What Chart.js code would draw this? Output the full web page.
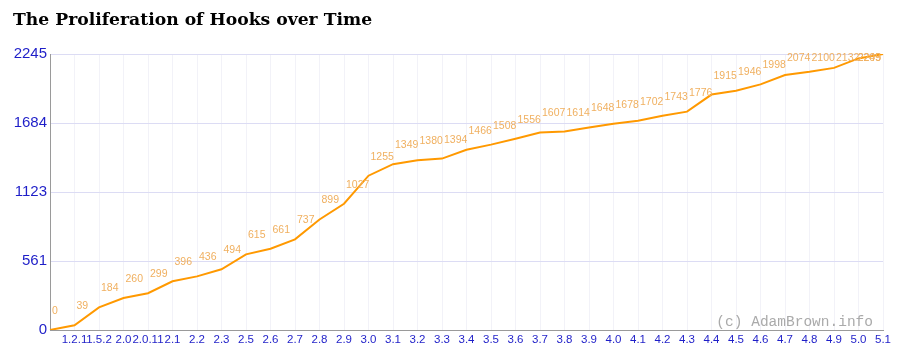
<!DOCTYPE html>
<html>
<head>
<meta charset="utf-8">
<script src="https://cdn.jsdelivr.net/npm/chart.js@4/dist/chart.umd.min.js"></script>
<style>
html,body{margin:0;padding:0;background:#fff;}
#wrap{width:900px;height:357px;position:relative;}
</style>
</head>
<body>
<div id="wrap"><canvas id="c" width="900" height="357"></canvas></div>
<script>
const versions = ["", "1.2.1", "1.5.2", "2.0", "2.0.11", "2.1", "2.2", "2.3", "2.5", "2.6", "2.7", "2.8", "2.9",
  "3.0", "3.1", "3.2", "3.3", "3.4", "3.5", "3.6", "3.7", "3.8", "3.9",
  "4.0", "4.1", "4.2", "4.3", "4.4", "4.5", "4.6", "4.7", "4.8", "4.9", "5.0", "5.1"];
const hookCounts = [0, 39, 184, 260, 299, 396, 436, 494, 615, 661, 737, 899, 1027,
  1255, 1349, 1380, 1394, 1466, 1508, 1556, 1607, 1614, 1648,
  1678, 1702, 1743, 1776, 1915, 1946, 1998, 2074, 2100, 2132, 2209, 2245];
const yTickValues = [0, 561.25, 1122.5, 1683.75, 2245];
const yTickLabels = ["0", "561", "1123", "1684", "2245"];
const titleText = "The Proliferation of Hooks over Time";
const watermarkText = "(c) AdamBrown.info";

const overlay = {
  id: 'overlay',
  afterDatasetsDraw(chart) {
    const ctx = chart.ctx;
    const xs = chart.scales.x, ys = chart.scales.y;
    const area = chart.chartArea;
    ctx.save();
    // watermark
    ctx.font = '14.5px "Liberation Mono", "DejaVu Sans Mono", monospace';
    ctx.fillStyle = '#aaaaaa';
    ctx.textAlign = 'right';
    ctx.textBaseline = 'alphabetic';
    ctx.fillText(watermarkText, area.right - 10, area.bottom - 4);
    // data labels
    ctx.font = '10.5px "Liberation Sans", Arial, sans-serif';
    ctx.fillStyle = '#f0b060';
    ctx.textAlign = 'left';
    hookCounts.forEach((v, i) => {
      const px = xs.getPixelForValue(i);
      const py = ys.getPixelForValue(v);
      const txt = String(v);
      const w = ctx.measureText(txt).width;
      let lx = px + 2;
      if (lx + w > area.right - 2) lx = area.right - 2 - w;
      const by = Math.max(py - 16, area.top + 7);
      ctx.fillText(txt, lx, by);
    });
    // title
    ctx.font = 'bold 17.2px "DejaVu Serif", "Liberation Serif", serif';
    ctx.fillStyle = '#000';
    ctx.textAlign = 'left';
    ctx.fillText(titleText, 13, 25);
    ctx.restore();
  }
};

new Chart(document.getElementById('c'), {
  type: 'line',
  data: {
    labels: versions,
    datasets: [{
      data: hookCounts,
      borderColor: '#ff9900',
      borderWidth: 2,
      pointRadius: 0,
      tension: 0,
      fill: false
    }]
  },
  options: {
    responsive: false,
    animation: false,
    devicePixelRatio: 1,
    layout: { padding: { top: 54, right: 17, bottom: 0, left: 0 } },
    plugins: { legend: { display: false }, tooltip: { enabled: false }, title: { display: false } },
    scales: {
      x: {
        type: 'category',
        offset: false,
        afterFit(s) { s.height = 27; },
        grid: { color: '#f2f2f8', drawTicks: false, lineWidth: 1 },
        border: { color: '#9a9a9a', width: 1 },
        ticks: {
          autoSkip: false, maxRotation: 0, minRotation: 0, padding: 3,
          color: '#1e1ec8',
          font: { family: '"Liberation Sans", Arial, sans-serif', size: 11.5 }
        }
      },
      y: {
        min: 0, max: 2245,
        afterFit(s) { s.width = 50; },
        afterBuildTicks(s) { s.ticks = yTickValues.map(v => ({ value: v })); },
        grid: { color: '#dcdcf4', drawTicks: false, lineWidth: 1 },
        border: { color: '#9a9a9a', width: 1 },
        ticks: {
          padding: 3,
          color: '#1e1ec8',
          font: { family: '"Liberation Sans", Arial, sans-serif', size: 15 },
          callback(value, index) { return yTickLabels[index]; }
        }
      }
    }
  },
  plugins: [overlay]
});
</script>
</body>
</html>
